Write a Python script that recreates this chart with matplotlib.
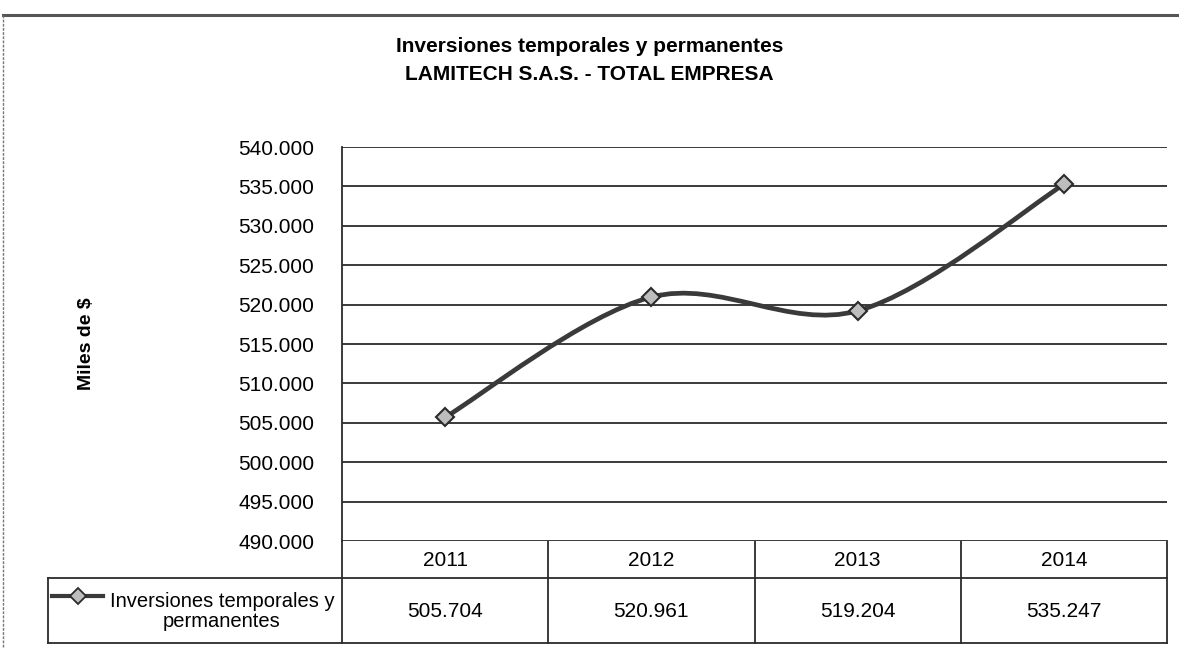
import numpy as np
import matplotlib.pyplot as plt
from matplotlib.path import Path
from matplotlib.patches import PathPatch

# ============================================
# DATA
# ============================================
years = ["2011", "2012", "2013", "2014"]
values = [505704, 520961, 519204, 535247]
value_labels = ["505.704", "520.961", "519.204", "535.247"]
y_ticks = [490000, 495000, 500000, 505000, 510000, 515000, 520000,
           525000, 530000, 535000, 540000]
series_name = "Inversiones temporales y\npermanentes"
title_lines = ["Inversiones temporales y permanentes",
               "LAMITECH S.A.S. - TOTAL EMPRESA"]
y_label = "Miles de $"

FONT = ["Liberation Sans Narrow", "Liberation Sans", "DejaVu Sans"]
DARK = "#2b2b2b"

W, H = 1179, 648
fig = plt.figure(figsize=(W / 100, H / 100), dpi=100)


def fx(px):
    return px / W


def fy(py):
    return 1 - py / H


# plot area in pixel coords
L, R, T, B = 342, 1167, 147, 541
ax = fig.add_axes([fx(L), fy(B), fx(R - L), (B - T) / H])
n = len(years)
x = np.arange(n)
ax.set_xlim(-0.5, n - 0.5)
ax.set_ylim(y_ticks[0], y_ticks[-1])
ax.set_yticks(y_ticks)
ax.set_yticklabels([f"{v // 1000}.000" for v in y_ticks], family=FONT, fontsize=15)
ax.set_xticks([])
ax.tick_params(axis="y", length=0, pad=20)
for s in ["top", "right", "bottom"]:
    ax.spines[s].set_visible(False)
ax.spines["left"].set_color(DARK)
ax.spines["left"].set_linewidth(1.3)
ax.grid(axis="y", color=DARK, linewidth=1.3)
ax.set_axisbelow(True)

# smoothed line (Excel-style bezier through the points)
pts = np.column_stack([x, values]).astype(float)
ext = np.vstack([pts[0], pts, pts[-1]])
verts = [tuple(pts[0])]
codes = [Path.MOVETO]
for i in range(n - 1):
    p0, p1, p2, p3 = ext[i], ext[i + 1], ext[i + 2], ext[i + 3]
    c1 = p1 + (p2 - p0) / 6
    c2 = p2 - (p3 - p1) / 6
    verts += [tuple(c1), tuple(c2), tuple(p2)]
    codes += [Path.CURVE4] * 3
ax.add_patch(PathPatch(Path(verts, codes), fill=False, edgecolor="#3a3a3a",
                       linewidth=3.4, zorder=3))
ax.plot(x, values, linestyle="none", marker="D", markersize=9,
        markerfacecolor="#bdbdbd", markeredgecolor="#2b2b2b",
        markeredgewidth=1.5, zorder=4)

ax.set_ylabel(y_label, family=FONT, fontsize=14, fontweight="bold")
ax.yaxis.set_label_coords((95 - L) / (R - L), 0.5)

# ============================================
# DATA TABLE
# ============================================
tax = fig.add_axes([0, 0, 1, 1], zorder=-1)
tax.set_xlim(0, W)
tax.set_ylim(H, 0)
tax.axis("off")

row1_top, row1_bot, row2_bot = B, 578, 643
leg_left = 48
cw = (R - L) / n
lk = dict(color=DARK, linewidth=1.3)
tax.plot([leg_left, R], [row1_bot, row1_bot], **lk)
tax.plot([leg_left, R], [row2_bot, row2_bot], **lk)
tax.plot([leg_left, leg_left], [row1_bot, row2_bot], **lk)
tax.plot([L, L], [row1_top, row2_bot], **lk)
for k in range(1, n + 1):
    xb = L + k * cw
    tax.plot([xb, xb], [row1_top, row2_bot], **lk)

for i, (yr, vl) in enumerate(zip(years, value_labels)):
    cx = L + (i + 0.5) * cw
    tax.text(cx, (row1_top + row1_bot) / 2 + 1, yr, ha="center", va="center",
             family=FONT, fontsize=15)
    tax.text(cx, (row1_bot + row2_bot) / 2 + 1, vl, ha="center", va="center",
             family=FONT, fontsize=15)

# legend key inside the first cell
tax.plot([52, 103], [596, 596], color="#3a3a3a", linewidth=3)
tax.plot([78], [596], linestyle="none", marker="D", markersize=8,
         markerfacecolor="#bdbdbd", markeredgecolor="#2b2b2b", markeredgewidth=1.3)
tax.text((leg_left + L) / 2 + 27, (row1_bot + row2_bot) / 2 + 1, series_name,
         ha="center", va="center", family=FONT, fontsize=14.5, linespacing=1.1)

# outer frame: thick top border and dashed left edge
tax.plot([3, W], [15, 15], color="#555555", linewidth=2.2)
tax.plot([3, 3], [15, H], color="#777777", linewidth=1, linestyle=(0, (2, 1)))

for line, py in zip(title_lines, [47, 75]):
    fig.text(0.5, fy(py), line, ha="center", va="center", family=FONT,
             fontsize=15, fontweight="bold")

fig.savefig("out.png", dpi=100)
